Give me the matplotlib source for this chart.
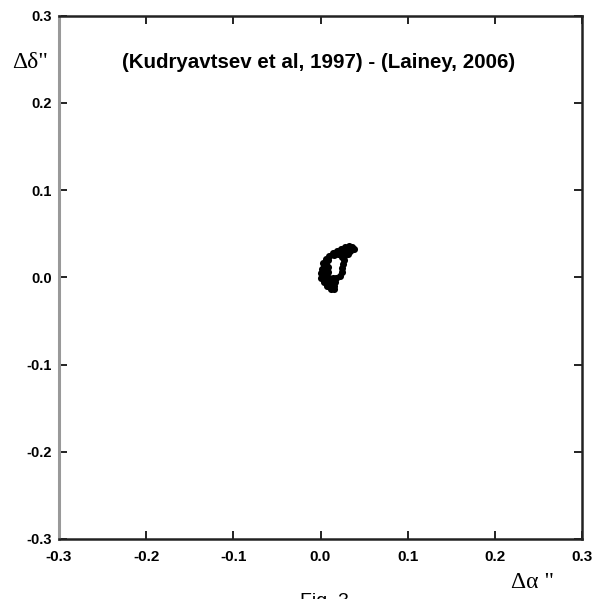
import matplotlib
matplotlib.use("Agg")
import matplotlib.pyplot as plt

# Cluster of residual points (arcsec)
dalpha = [0.00287, 0.00631, 0.00975, 0.01434, 0.01893, 0.02351, 0.02810, 0.03269, 0.03613, 0.03842,
          0.00860, 0.01548, 0.02007, 0.02466, 0.02925, 0.03384, 0.02695, 0.03154, 0.02466,
          0.02700, 0.02580, 0.02520, 0.02410, 0.02240,
          0.00401, 0.00860, 0.00057, 0.00516, 0.00860, 0.00172, 0.00631,
          0.00057, 0.00516, 0.00975, 0.01434, 0.01778, 0.00401, 0.00860, 0.01319, 0.01663,
          0.00746, 0.01204, 0.01548, 0.01204, 0.01548]
ddelta = [0.0165, 0.0211, 0.0245, 0.0280, 0.0303, 0.0326, 0.0349, 0.0360, 0.0349, 0.0326,
          0.0200, 0.0258, 0.0268, 0.0280, 0.0291, 0.0303, 0.0245, 0.0268, 0.0234,
          0.0200, 0.0154, 0.0108, 0.0062, 0.0016,
          0.0119, 0.0119, 0.0050, 0.0050, 0.0062, 0.0096, 0.0154,
          -0.0002, -0.0010, -0.0005, -0.0012, -0.0004, -0.0050, -0.0056, -0.0051, -0.0058,
          -0.0097, -0.0102, -0.0095, -0.0133, -0.0128]

xticks = [-0.3, -0.2, -0.1, 0.0, 0.1, 0.2, 0.3]
yticks = [-0.3, -0.2, -0.1, 0.0, 0.1, 0.2, 0.3]
xticklabels = ["-0.3", "-0.2", "-0.1", "0.0", "0.1", "0.2", "0.3"]
yticklabels = ["-0.3", "-0.2", "-0.1", "0.0", "0.1", "0.2", "0.3"]
title = "(Kudryavtsev et al, 1997) - (Lainey, 2006)"

W, H = 595, 599
fig = plt.figure(figsize=(W / 100, H / 100), dpi=100)
ax = fig.add_axes([59 / W, 1 - 539 / H, 523 / W, 523.3 / H])

ax.scatter(dalpha, ddelta, s=26, color="black", linewidths=0, zorder=3)

ax.set_xlim(-0.3, 0.3)
ax.set_ylim(-0.3, 0.3)
ax.set_xticks(xticks)
ax.set_yticks(yticks)
ax.set_xticklabels(xticklabels, fontfamily="Liberation Sans", fontweight="bold", fontsize=11)
ax.set_yticklabels(yticklabels, fontfamily="Liberation Sans", fontweight="bold", fontsize=10.5)
ax.tick_params(direction="in", length=6, width=1.4, color="#222222",
               top=True, right=True, labeltop=False, labelright=False)
ax.tick_params(axis="x", pad=8)
ax.tick_params(axis="y", pad=5)

for side in ["top", "bottom", "right"]:
    ax.spines[side].set_color("#222222")
    ax.spines[side].set_linewidth(1.8)
ax.spines["left"].set_color("#999999")
ax.spines["left"].set_linewidth(2.2)

fig.text(319 / W, 1 - 62 / H, title, ha="center", va="center",
         fontfamily="Liberation Sans", fontweight="bold", fontsize=14.8)

fig.text(12 / W, 1 - 62 / H, "\u0394\u03b4\"", ha="left", va="center",
         fontfamily="Liberation Serif", fontsize=17)
fig.text(511 / W, 1 - 582 / H, "\u0394\u03b1 \"", ha="left", va="center",
         fontfamily="Liberation Serif", fontsize=17)
fig.text(300 / W, 1 - 593 / H, "Fig. 3", ha="left", va="top",
         fontfamily="Liberation Sans", fontsize=14)

fig.savefig("out.png", dpi=100)
